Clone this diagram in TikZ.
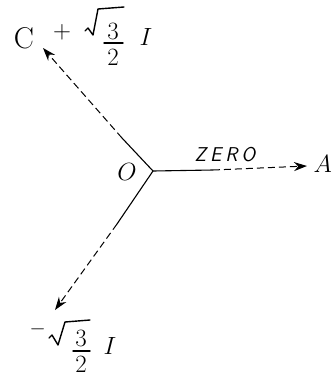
\documentclass[tikz,border=0pt]{standalone}
\usetikzlibrary{arrows.meta}
\begin{document}
\begin{tikzpicture}[x=1pt,y=-1pt,
  vec/.style={line width=1.1pt},
  dvec/.style={line width=1pt,dash pattern=on 7pt off 4pt,-{Stealth[length=13pt,width=9pt]}},
  lbl/.style={inner sep=0pt,font=\fontsize{30}{34}\selectfont},
  dig/.style={inner sep=0pt,font=\fontsize{27}{30}\selectfont},
  pen/.style={line width=1.4pt,line cap=round,line join=round}]
\useasboundingbox (0,0) rectangle (332,376);
% vectors
\coordinate (o) at (153,171);
\coordinate (a) at (307,166);
\coordinate (c) at (43,48);
\coordinate (b) at (55,310);
\coordinate (oa) at (213,170);
\coordinate (oc) at (122,138);
\coordinate (ob) at (117,224);
\draw[vec] (o) -- (oa);
\draw[vec] (o) -- (oc);
\draw[vec] (o) -- (ob);
\draw[dvec] (oa) -- (a);
\draw[dvec] (oc) -- (c);
\draw[dvec] (ob) -- (b);
% labels near the origin and A
\node[lbl,font=\fontsize{34}{38}\selectfont] (ol) at (127,172) {$O$};
\node[lbl,font=\fontsize{20}{24}\selectfont\sffamily\slshape] (zl) at (225,155) {Z\hspace{4pt}E\hspace{4pt}R\hspace{4pt}O};
\node[lbl,font=\fontsize{27}{30}\selectfont,anchor=east] (al) at (332,164) {$A$};
% top label: C + sqrt(3/2) I
\node[lbl] (c1) at (24,38) {C};
\node[lbl] (plus) at (62,32) {$+$};
\node[dig] (n3) at (113,31) {$3$};
\node[dig] (d2) at (113,57) {$2$};
\coordinate (f1l) at (104,43);
\coordinate (f1r) at (123,43);
\draw[pen] (f1l) -- (f1r);
\draw[pen] (85,31) -- (88,28) -- (93,35) -- (98,9) -- (124,7);
\node[lbl] (i1) at (146,37) {$I$};
% bottom label: - sqrt(3/2) I
\node[lbl] (minus) at (38,333) {$^{-}$};
\node[dig] (n3b) at (81,338) {$3$};
\node[dig] (d2b) at (81,364) {$2$};
\coordinate (f2l) at (73,351);
\coordinate (f2r) at (90,351);
\draw[pen] (f2l) -- (f2r);
\draw[pen] (49,338) -- (52,335) -- (58,345) -- (65,322) -- (90,320);
\node[lbl] (i2) at (110,346) {$I$};
\end{tikzpicture}
\end{document}
